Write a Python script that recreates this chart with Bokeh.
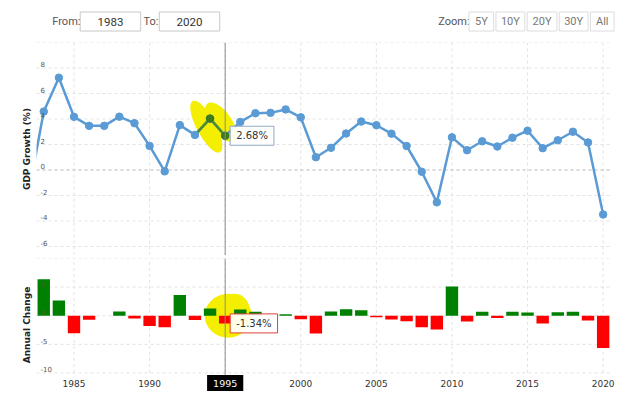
import numpy as np
from bokeh.plotting import figure
from bokeh.models import Range1d, Span, Label, Title, ColumnDataSource
from bokeh.layouts import column
from bokeh.embed import file_html
from bokeh.resources import INLINE
from bokeh.core.properties import value

# ---------------- data ----------------
years = list(range(1982, 2021))
gdp_growth = [-1.80, 4.58, 7.24, 4.17, 3.46, 3.46, 4.18, 3.67, 1.89, -0.11,
              3.52, 2.75, 4.028, 2.684, 3.77, 4.45, 4.48, 4.75, 4.13, 1.00,
              1.74, 2.86, 3.80, 3.51, 2.85, 1.88, -0.14, -2.54, 2.56, 1.55,
              2.25, 1.84, 2.53, 3.08, 1.71, 2.33, 3.00, 2.16, -3.49]
x_ticks = [1985, 1990, 1995, 2000, 2005, 2010, 2015, 2020]
x_tick_labels = ["1985", "1990", "1995", "2000", "2005", "2010", "2015", "2020"]
gdp_ticks = [-6, -4, -2, 0, 2, 4, 6, 8, 10]
gdp_tick_labels = ["-6", "-4", "-2", "0", "2", "4", "6", "8", ""]
change_ticks = [-10, -5, 0, 5, 10]
change_tick_labels = ["-10", "-5", "0", "5", ""]
zoom_buttons = ["5Y", "10Y", "20Y", "30Y", "All"]
highlight_year = 1995

change_years = years[1:]
annual_change = list(np.diff(gdp_growth))

# ---------------- style ----------------
W = 630
FONT = "DejaVu Sans"
BLUE = "#5b9bd5"
GRID_C = "#e2e2e2"
YELLOW = "#f4ee00"
GREEN_HL = "#4f8c2c"
GREEN_PT = "#3c7a1c"

X_START, X_PLOT_END, X_END = 1982.52, 2020.62, 2021.28
x_range = Range1d(X_START, X_END)


def chart(height, y_range, border_top):
    p = figure(width=W, height=height, x_range=x_range, y_range=y_range,
               toolbar_location=None, output_backend="svg",
               x_axis_location=None, y_axis_location=None,
               min_border_left=36, min_border_right=8, min_border_top=border_top,
               min_border_bottom=0)
    p.outline_line_color = None
    p.grid.visible = False
    return p


def add_grids(p, y_lo, yt):
    # dashed grid lines, limited to the plotting band
    p.segment(x0=x_ticks, x1=x_ticks, y0=[y_lo] * len(x_ticks), y1=[yt[-1]] * len(x_ticks),
              line_color=GRID_C, line_dash="3 3", line_width=1)
    p.segment(x0=[X_START] * len(yt), x1=[X_PLOT_END] * len(yt), y0=yt, y1=yt,
              line_color=GRID_C, line_dash="3 3", line_width=1)


def add_ylabels(p, ticks, labels):
    src = ColumnDataSource(dict(x=[X_START] * len(ticks), y=ticks, t=labels))
    p.text(x="x", y="y", text="t", source=src, x_offset=4, y_offset=-3.5,
           text_font=value(FONT), text_font_size="7px", text_color="#555555",
           text_baseline="middle", text_align="left")


# ---------------- header ----------------
hdr = figure(width=W, height=40, x_range=Range1d(0, W), y_range=Range1d(40, 0),
             toolbar_location=None, output_backend="svg",
             x_axis_location=None, y_axis_location=None, min_border=0)
hdr.outline_line_color = None
hdr.grid.visible = False
hdr.quad(left=[47, 132], right=[112, 197], top=[11.5, 11.5], bottom=[30.5, 30.5],
         fill_color="white", line_color="#c8c8c8")
hdr.text(x=[17, 115, 432], y=[21, 21, 21], text=["From:", "To:", "Zoom:"],
         text_font=value("Roboto"), text_font_size="11px", text_color="#555555",
         text_baseline="middle", text_align="left")
hdr.text(x=[79.5, 164.5], y=[21, 21], text=[str(years[1]), str(years[-1])],
         text_font=value("Roboto"), text_font_size="11.5px", text_color="#333333",
         text_baseline="middle", text_align="center")
b_left = [465, 494, 527.5, 562, 595.5]
b_right = [491.5, 525, 559.5, 593, 621]
hdr.quad(left=b_left, right=b_right, top=[11.5] * 5, bottom=[30.5] * 5,
         fill_color="white", line_color="#dcdcdc")
hdr.text(x=[(a + b) / 2 for a, b in zip(b_left, b_right)], y=[21] * 5, text=zoom_buttons,
         text_font=value("Roboto"), text_font_size="11px", text_color="#777777",
         text_baseline="middle", text_align="center")

# ---------------- top chart ----------------
top = chart(215, Range1d(-6.71, 10.0), 2)
add_grids(top, -6.71, gdp_ticks)
top.segment(x0=[X_START], x1=[X_PLOT_END], y0=[0], y1=[0],
            line_color="#c4c4c4", line_dash="3 3", line_width=1)
hi = years.index(highlight_year)
# highlighter marks around the selected point
top.ellipse(x=[years[hi - 1] - 0.25, years[hi - 1] + 0.72],
            y=[3.4, 3.75], width=[58, 46], height=[19, 21], angle=[-1.08, -0.95],
            width_units="screen", height_units="screen",
            fill_color=YELLOW, line_color=None)
top.line(years, gdp_growth, line_color=BLUE, line_width=2.5)
top.line(years[hi - 2:hi + 1], gdp_growth[hi - 2:hi + 1], line_color=GREEN_HL, line_width=2.5)
top.scatter(years, gdp_growth, size=7.5, fill_color=BLUE, line_color=BLUE)
top.scatter(years[hi - 1:hi + 1], gdp_growth[hi - 1:hi + 1], size=7.5,
            fill_color=GREEN_PT, line_color=GREEN_PT)
add_ylabels(top, gdp_ticks, gdp_tick_labels)
top.add_layout(Title(text="GDP Growth (%)", align="center", text_font=FONT,
                     text_font_size="9px", text_font_style="bold",
                     text_color="#222222", standoff=9), "left")
top.add_layout(Span(location=highlight_year, dimension="height",
                    line_color="#8c8c8c", line_width=1))
top.add_layout(Label(x=highlight_year, y=gdp_growth[hi], text=f"{gdp_growth[hi]:.2f}%",
                     x_offset=5, text_baseline="middle", text_align="left",
                     text_font=FONT, text_font_size="10px", text_color="#333333",
                     background_fill_color="white", background_fill_alpha=0.92,
                     border_line_color="#8fa9c4", border_line_width=1, padding=(6, 4)))

# ---------------- bottom chart ----------------
bot = chart(136, Range1d(-13.25, 10.0), 3)
add_grids(bot, change_ticks[0], change_ticks)
ci = change_years.index(highlight_year)
bot.ellipse(x=[highlight_year + 0.2, highlight_year + 0.6], y=[0, 1.2], width=[47, 30],
            height=[44, 30], width_units="screen", height_units="screen",
            fill_color=YELLOW, line_color=None)
colors = ["#008000" if v >= 0 else "#ff0000" for v in annual_change]
bot.vbar(x=change_years, top=annual_change, bottom=0, width=0.82,
         fill_color=colors, line_color=None)
add_ylabels(bot, change_ticks, change_tick_labels)
# x-axis labels under the lowest grid line
bot.text(x=x_ticks, y=[change_ticks[0]] * len(x_ticks), text=x_tick_labels,
         y_offset=10.5, text_font=value(FONT), text_font_size="9px",
         text_color="#333333", text_baseline="middle", text_align="center")
bot.add_layout(Title(text="Annual Change", align="center", text_font=FONT,
                     text_font_size="9px", text_font_style="bold",
                     text_color="#222222", standoff=9), "left")
bot.add_layout(Span(location=highlight_year, dimension="height",
                    line_color="#8c8c8c", line_width=1))
bot.add_layout(Label(x=highlight_year, y=annual_change[ci], text=f"{annual_change[ci]:.2f}%",
                     x_offset=5, text_baseline="middle", text_align="left",
                     text_font=FONT, text_font_size="10px", text_color="#333333",
                     background_fill_color="white", background_fill_alpha=0.92,
                     border_line_color="#e0403a", border_line_width=1, padding=(6, 4)))
bot.add_layout(Label(x=highlight_year, y=change_ticks[0], y_offset=-10.5,
                     text=str(highlight_year), text_baseline="middle", text_align="center",
                     text_font=FONT, text_font_size="9.5px", text_color="white",
                     background_fill_color="black", padding=(6, 5)))

# ---------------- navigator scrollbar strip ----------------
nav = figure(width=W, height=3, x_range=Range1d(0, W), y_range=Range1d(0, 1),
             toolbar_location=None, output_backend="svg",
             x_axis_location=None, y_axis_location=None, min_border=0)
nav.outline_line_color = None
nav.grid.visible = False
nav.quad(left=[36], right=[612], bottom=[0], top=[1], fill_color="#e4e4e4", line_color=None)

layout = column(hdr, top, bot, nav, spacing=0)
open("out.html", "w").write(file_html(layout, INLINE))
